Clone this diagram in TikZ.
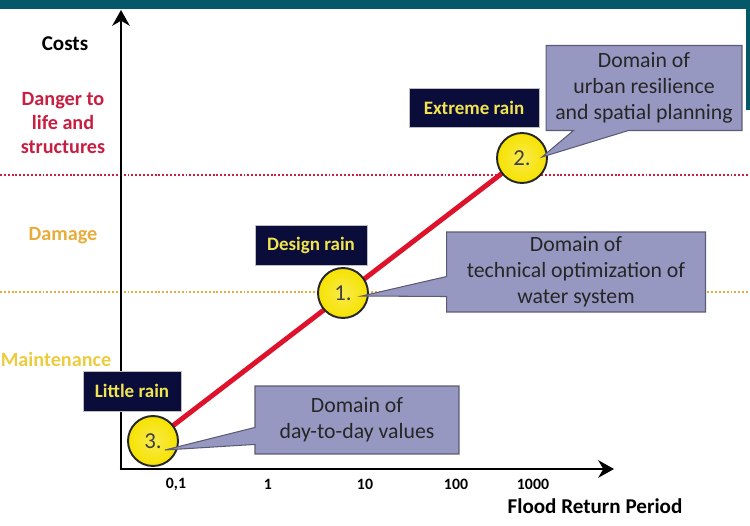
\documentclass[tikz,border=0pt]{standalone}
\usepackage{fontspec}
\setmainfont{Carlito}
\usetikzlibrary{arrows.meta,positioning,shapes.callouts,calc}
\definecolor{deepteal}{RGB}{4,88,106}
\definecolor{dangerred}{RGB}{200,30,65}
\definecolor{damageorange}{RGB}{232,172,58}
\definecolor{maintyellow}{RGB}{236,204,62}
\definecolor{flowred}{RGB}{222,18,42}
\definecolor{nightblue}{RGB}{10,12,58}
\definecolor{rainyellow}{RGB}{240,228,80}
\definecolor{sunyellow}{RGB}{246,226,0}
\definecolor{slate}{RGB}{150,152,194}

\tikzset{
  level/.style={font=\fontsize{11.5}{13.6}\selectfont\bfseries,align=center},
  rainbox/.style={fill=nightblue,draw=gray!50,line width=0.4pt,text=rainyellow,
    font=\fontsize{10.8}{12}\selectfont\bfseries,inner sep=0pt},
  station/.style={circle,draw=black!85,line width=1.1pt,minimum size=1cm,inner sep=0pt,
    inner color=sunyellow!70!white,outer color=sunyellow,
    font=\fontsize{13}{14}\selectfont,text=black!75},
  domainnote/.style={rectangle callout,fill=slate,draw=slate!60!black,line width=0.6pt,
    font=\fontsize{12.4}{14.8}\selectfont,text=black!85,align=center,inner sep=0pt},
  ticklabel/.style={font=\fontsize{9}{10}\selectfont\bfseries},
  axis/.style={line width=1.5pt,-{Stealth[length=9pt,width=10pt]}},
  limit/.style={line width=1.3pt,dash pattern=on 1.1pt off 1.1pt},
}

\begin{document}
\begin{tikzpicture}[x=0.02cm,y=-0.02cm]
  \useasboundingbox (0,0) rectangle (750,526);
  % frame of the slide
  \fill[deepteal] (0,0) rectangle (750,9);
  \fill[deepteal] (746,0) rectangle (750,110);

  % cost levels
  \draw[limit,dangerred] (0,175) -- (750,175);
  \draw[limit,damageorange] (0,292) -- (750,292);
  \node[level,font=\fontsize{12}{14}\selectfont\bfseries] (costs) at (65,44) {Costs};
  \node[level,text=dangerred] (danger) at (63,123) {Danger to\\life and\\structures};
  \node[level,text=damageorange] (damage) at (63,236) {Damage};
  \node[level,text=maintyellow] (maint) at (56,359) {Maintenance};

  % axes
  \coordinate (origin) at (121,469);
  \coordinate (ytop) at (121,10);
  \coordinate (xend) at (614,469);
  \draw[axis] ([yshift=0.75pt]origin) -- (ytop);
  \draw[axis] ([xshift=-0.75pt]origin) -- (xend);
  \node[ticklabel] (t1) at (176,484) {0,1};
  \node[ticklabel] (t2) at (268,484) {1};
  \node[ticklabel] (t3) at (365,484) {10};
  \node[ticklabel] (t4) at (456,484) {100};
  \node[ticklabel] (t5) at (533,484) {1000};
  \node[font=\fontsize{12}{14}\selectfont\bfseries] (period) at (595,506) {Flood Return Period};

  % cost curve and rain events
  \coordinate (p3) at (153,441);
  \coordinate (p1) at (343,293);
  \coordinate (p2) at (522,158);
  \draw[flowred,line width=2.8pt] (p3) -- (p2);
  \node[station] (c3) at (p3) {3.};
  \node[station] (c1) at (p1) {1.};
  \node[station] (c2) at (p2) {2.};

  \node[rainbox,minimum width=1.96cm,minimum height=0.8cm] (little) at (132,391) {Little rain};
  \node[rainbox,minimum width=2.24cm,minimum height=0.8cm] (design) at (311,245) {Design rain};
  \node[rainbox,minimum width=2.6cm,minimum height=0.78cm] (extreme) at (474,108) {Extreme rain};

  % domains
  \node[domainnote,minimum width=4.08cm,minimum height=1.36cm,callout pointer width=0.34cm,
    callout absolute pointer={($(c3)+(12,9)$)}] (d3) at (357,420) {Domain of\\day-to-day values};
  \node[domainnote,minimum width=5.18cm,minimum height=1.6cm,callout pointer width=0.4cm,
    callout absolute pointer={($(c1)+(19,3)$)}] (d1) at (576,272) {Domain of\\technical optimization of\\water system};
  \node[domainnote,minimum width=3.92cm,minimum height=1.7cm,callout pointer width=1.1cm,
    callout absolute pointer={($(c2)+(20,-1)$)}] (d2) at (644,88) {Domain of\\urban resilience\\and spatial planning};
\end{tikzpicture}
\end{document}
